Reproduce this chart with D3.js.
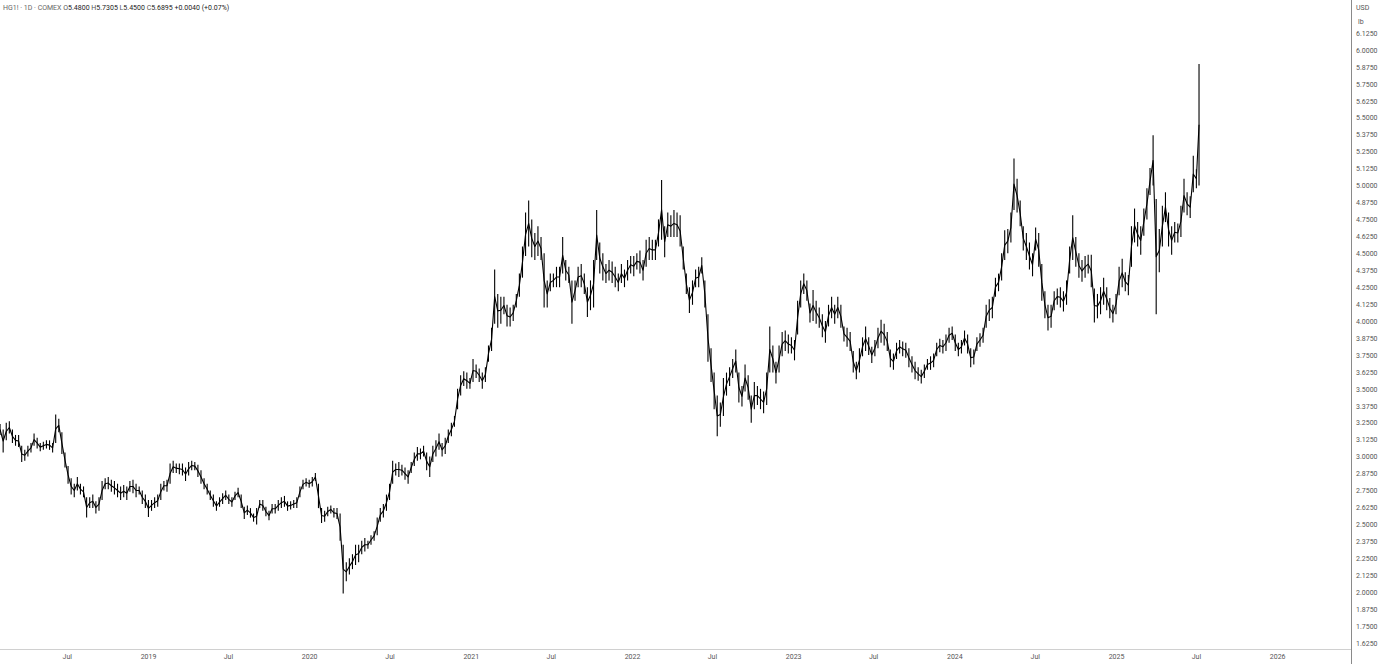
<!DOCTYPE html>
<html><head><meta charset="utf-8">
<script src="https://cdn.jsdelivr.net/npm/d3@7"></script>
<style>
body{margin:0;background:#fff;}
svg{display:block;font-family:Roboto,"Liberation Sans",sans-serif;}
</style>
</head><body>
<svg id="c" width="1379" height="664"></svg>
<script>
// ---- data (weekly ranges of HG1! COMEX copper, USD/lb) ----
const firstWeek = "2018-01-29";      // Monday of first weekly bar
const lastTradingDay = "2025-07-09"; // last bar in the chart
const weekLow = [
3.16,3.03,3.12,3.17,3.10,3.08,3.07,2.96,2.97,3.00,
3.03,3.08,3.06,3.04,3.05,3.06,3.05,3.03,3.10,3.18,
3.02,2.92,2.80,2.72,2.70,2.75,2.72,2.70,2.55,2.62,
2.62,2.58,2.60,2.68,2.76,2.76,2.74,2.72,2.70,2.68,
2.70,2.68,2.74,2.73,2.70,2.72,2.65,2.62,2.555,2.60,
2.62,2.63,2.68,2.75,2.74,2.80,2.88,2.88,2.87,2.86,
2.82,2.86,2.90,2.90,2.85,2.80,2.76,2.72,2.68,2.63,
2.60,2.63,2.65,2.68,2.65,2.63,2.68,2.70,2.62,2.54,
2.57,2.55,2.52,2.50,2.62,2.60,2.56,2.53,2.58,2.58,
2.60,2.62,2.63,2.60,2.61,2.62,2.62,2.70,2.76,2.78,
2.77,2.78,2.82,2.62,2.51,2.52,2.56,2.58,2.55,2.54,
2.38,1.99,2.08,2.13,2.17,2.20,2.22,2.28,2.30,2.32,
2.35,2.38,2.42,2.52,2.55,2.60,2.68,2.80,2.86,2.85,
2.86,2.83,2.80,2.88,2.93,2.97,2.98,3.00,2.90,2.85,
2.96,3.00,3.05,3.00,3.02,3.10,3.15,3.22,3.35,3.45,
3.52,3.50,3.50,3.55,3.58,3.55,3.50,3.55,3.70,3.78,
3.98,3.95,3.98,4.05,3.96,3.96,4.00,4.10,4.18,4.32,
4.48,4.55,4.47,4.45,4.48,4.45,4.10,4.10,4.22,4.25,
4.25,4.25,4.35,4.30,4.28,3.98,4.15,4.25,4.25,4.20,
4.03,4.08,4.10,4.45,4.35,4.30,4.28,4.30,4.28,4.25,
4.22,4.28,4.25,4.30,4.35,4.33,4.38,4.35,4.30,4.40,
4.45,4.45,4.45,4.55,4.60,4.47,4.62,4.62,4.62,4.62,
4.55,4.38,4.20,4.06,4.12,4.25,4.25,4.35,4.10,3.70,
3.55,3.35,3.15,3.22,3.30,3.45,3.52,3.58,3.62,3.40,
3.37,3.48,3.42,3.25,3.35,3.38,3.35,3.32,3.38,3.62,
3.62,3.54,3.62,3.74,3.78,3.76,3.76,3.71,3.90,4.10,
4.20,4.15,3.99,4.00,3.98,3.95,3.88,3.84,3.96,4.02,
3.98,4.02,3.95,3.85,3.81,3.78,3.62,3.57,3.62,3.74,
3.78,3.75,3.69,3.74,3.80,3.84,3.82,3.78,3.66,3.64,
3.72,3.76,3.74,3.73,3.66,3.62,3.57,3.56,3.54,3.58,
3.64,3.64,3.66,3.74,3.77,3.76,3.78,3.84,3.86,3.78,
3.74,3.76,3.82,3.76,3.66,3.68,3.78,3.81,3.84,3.95,
4.00,4.02,4.18,4.22,4.30,4.45,4.50,4.58,4.82,4.80,
4.70,4.52,4.45,4.38,4.33,4.52,4.40,4.15,4.02,3.93,
3.95,4.08,4.12,4.10,4.07,4.12,4.35,4.45,4.40,4.32,
4.29,4.32,4.35,4.25,3.99,4.02,4.05,4.12,4.08,4.02,
3.99,4.05,4.19,4.25,4.22,4.19,4.40,4.58,4.55,4.49,
4.63,4.75,4.93,5.00,4.05,4.36,4.55,4.73,4.55,4.49,
4.58,4.58,4.62,4.80,4.78,4.76,4.95,4.98,5.00
];
const weekHigh = [
3.24,3.20,3.25,3.26,3.20,3.16,3.16,3.08,3.05,3.08,
3.10,3.17,3.14,3.10,3.11,3.12,3.12,3.10,3.31,3.28,
3.18,3.03,2.93,2.84,2.80,2.85,2.80,2.78,2.70,2.70,
2.72,2.67,2.70,2.82,2.84,2.85,2.83,2.82,2.80,2.78,
2.79,2.78,2.82,2.83,2.80,2.78,2.75,2.72,2.68,2.68,
2.70,2.72,2.80,2.82,2.83,2.95,2.97,2.95,2.95,2.95,
2.92,2.96,2.97,2.96,2.94,2.90,2.84,2.80,2.75,2.72,
2.67,2.70,2.73,2.75,2.72,2.70,2.74,2.77,2.72,2.63,
2.64,2.62,2.58,2.62,2.68,2.68,2.63,2.60,2.65,2.65,
2.68,2.70,2.71,2.67,2.67,2.68,2.70,2.78,2.83,2.84,
2.83,2.85,2.88,2.80,2.62,2.60,2.63,2.64,2.62,2.62,
2.58,2.35,2.22,2.25,2.28,2.35,2.35,2.38,2.40,2.38,
2.42,2.45,2.55,2.62,2.65,2.72,2.80,2.97,2.95,2.96,
2.94,2.92,2.90,2.96,3.03,3.07,3.06,3.08,3.03,3.00,
3.08,3.12,3.17,3.10,3.14,3.20,3.25,3.30,3.50,3.60,
3.63,3.62,3.58,3.72,3.68,3.65,3.62,3.66,3.82,3.95,
4.38,4.20,4.18,4.18,4.12,4.10,4.12,4.20,4.35,4.55,
4.80,4.89,4.75,4.65,4.70,4.62,4.50,4.30,4.35,4.35,
4.40,4.40,4.62,4.45,4.40,4.30,4.30,4.40,4.42,4.35,
4.25,4.30,4.45,4.82,4.58,4.50,4.42,4.45,4.44,4.40,
4.35,4.42,4.38,4.45,4.48,4.48,4.50,4.52,4.45,4.60,
4.62,4.60,4.60,4.75,5.04,4.70,4.80,4.78,4.82,4.80,
4.78,4.55,4.35,4.25,4.30,4.38,4.40,4.47,4.30,4.05,
3.80,3.62,3.45,3.40,3.58,3.62,3.66,3.72,3.79,3.62,
3.52,3.68,3.60,3.45,3.55,3.52,3.50,3.48,3.62,3.96,
3.82,3.70,3.82,3.92,3.93,3.90,3.88,3.86,4.15,4.30,
4.35,4.30,4.13,4.23,4.15,4.10,4.05,4.00,4.12,4.18,
4.12,4.18,4.12,3.96,3.95,3.92,3.78,3.70,3.80,3.88,
3.96,3.88,3.81,3.86,3.95,4.01,3.98,3.92,3.79,3.76,
3.84,3.86,3.85,3.84,3.80,3.74,3.70,3.66,3.64,3.68,
3.72,3.74,3.76,3.84,3.87,3.86,3.90,3.95,3.96,3.90,
3.84,3.86,3.93,3.90,3.80,3.79,3.88,3.91,3.95,4.12,
4.16,4.18,4.32,4.35,4.50,4.67,4.68,4.80,5.20,5.05,
4.89,4.70,4.65,4.58,4.50,4.69,4.65,4.42,4.22,4.12,
4.12,4.22,4.24,4.25,4.22,4.30,4.55,4.78,4.62,4.50,
4.45,4.48,4.49,4.49,4.24,4.20,4.25,4.32,4.25,4.17,
4.12,4.20,4.40,4.46,4.36,4.34,4.70,4.83,4.73,4.70,
4.83,4.98,5.13,5.37,4.90,4.68,4.85,4.95,4.80,4.70,
4.73,4.72,4.85,5.05,4.95,4.92,5.22,5.12,5.8955
];
const priceTicks = [6.125,6.0,5.875,5.75,5.625,5.5,5.375,5.25,5.125,5.0,4.875,4.75,4.625,4.5,4.375,4.25,4.125,4.0,
  3.875,3.75,3.625,3.5,3.375,3.25,3.125,3.0,2.875,2.75,2.625,2.5,2.375,2.25,2.125,2.0,1.875,1.75,1.625];
const timeTickDates = ["2018-07-01","2019-01-01","2019-07-01","2020-01-01","2020-07-01","2021-01-01","2021-07-01",
  "2022-01-01","2022-07-01","2023-01-01","2023-07-01","2024-01-01","2024-07-01","2025-01-01","2025-07-01","2026-01-01"];
const timeTickLabels = ["Jul","2019","Jul","2020","Jul","2021","Jul","2022","Jul","2023","Jul","2024","Jul","2025","Jul","2026"];
const headerSymbol = "HG1! · 1D · COMEX";
const headerOHLC = [["O","5.4800"],["H","5.7305"],["L","5.4500"],["C","5.6895"]];
const headerChange = "+0.0040 (+0.07%)";
const unitLabels = ["USD","lb"];

// ---- layout ----
const W = 1379, H = 664, plotRight = 1351, plotBottom = 649;
const svg = d3.select("#c");
const x = d3.scaleUtc().domain([new Date("2019-01-01T00:00:00Z"), new Date("2025-01-01T00:00:00Z")]).range([148, 1116]);
const y = d3.scaleLinear().domain([1.625, 6.125]).range([643, 33]);

svg.append("rect").attr("width", W).attr("height", H).attr("fill", "#fff");
svg.append("defs").append("clipPath").attr("id", "plot")
  .append("rect").attr("x", 0).attr("y", 0).attr("width", plotRight).attr("height", plotBottom);

const start0 = new Date(firstWeek + "T00:00:00Z");
const lastDay = new Date(lastTradingDay + "T00:00:00Z");
const bars = weekLow.map((lo, i) => {
  const s = d3.utcDay.offset(start0, 7 * i);
  let e = d3.utcDay.offset(s, 4);
  if (e > lastDay) e = lastDay;
  return { t: new Date((+s + +e) / 2), lo, hi: weekHigh[i] };
});

const g = svg.append("g").attr("clip-path", "url(#plot)");
// thin connector through each bar's range so the bars read as one jagged trace
const line = d3.line().x(d => x(d.t)).y(d => y((d.lo + d.hi) / 2));
g.append("path").datum(bars).attr("d", line).attr("fill", "none")
  .attr("stroke", "#000").attr("stroke-width", 1.1).attr("stroke-linejoin", "round");
g.selectAll("line.bar").data(bars).join("line").attr("class", "bar")
  .attr("x1", d => x(d.t)).attr("x2", d => x(d.t))
  .attr("y1", d => y(d.hi)).attr("y2", d => y(d.lo))
  .attr("stroke", "#000").attr("stroke-width", 1.1);

// bottom border
svg.append("line").attr("x1", 0).attr("x2", plotRight).attr("y1", plotBottom + 0.5).attr("y2", plotBottom + 0.5)
  .attr("stroke", "#d0d0d0");

// right axis
const yAxis = d3.axisRight(y).tickValues(priceTicks).tickSize(0).tickPadding(5).tickFormat(d3.format(".4f"));
const ya = svg.append("g").attr("transform", `translate(${plotRight},0)`).call(yAxis);
ya.select(".domain").remove();
ya.selectAll("text").attr("font-family", "Roboto, sans-serif").attr("font-size", 7).attr("fill", "#555");
svg.append("rect").attr("x", plotRight + 1).attr("y", 0).attr("width", W - plotRight).attr("height", 31).attr("fill", "#fff");
svg.append("text").attr("x", 1356).attr("y", 10).attr("font-size", 7).attr("fill", "#555").text(unitLabels[0]);
svg.append("text").attr("x", 1358).attr("y", 24).attr("font-size", 7).attr("fill", "#555").text(unitLabels[1]);
svg.append("line").attr("x1", plotRight + 0.5).attr("x2", plotRight + 0.5).attr("y1", 0).attr("y2", H)
  .attr("stroke", "#8a8a8a");

// bottom axis
const tDates = timeTickDates.map(s => new Date(s + "T00:00:00Z"));
const xAxis = d3.axisBottom(x).tickValues(tDates).tickSize(0).tickPadding(5)
  .tickFormat((d, i) => timeTickLabels[i]);
const xa = svg.append("g").attr("transform", `translate(0,${plotBottom})`).call(xAxis);
xa.select(".domain").remove();
xa.selectAll("text").attr("font-family", "Roboto, sans-serif").attr("font-size", 7).attr("fill", "#555");

// header
const ht = svg.append("text").attr("x", 3).attr("y", 9.5).attr("font-size", 7);
ht.append("tspan").attr("fill", "#666").text(headerSymbol + "  ");
headerOHLC.forEach(([k, v]) => {
  ht.append("tspan").attr("fill", "#555").text(k);
  ht.append("tspan").attr("fill", "#222").text(v + " ");
});
ht.append("tspan").attr("fill", "#222").text(headerChange);
</script>
</body></html>
